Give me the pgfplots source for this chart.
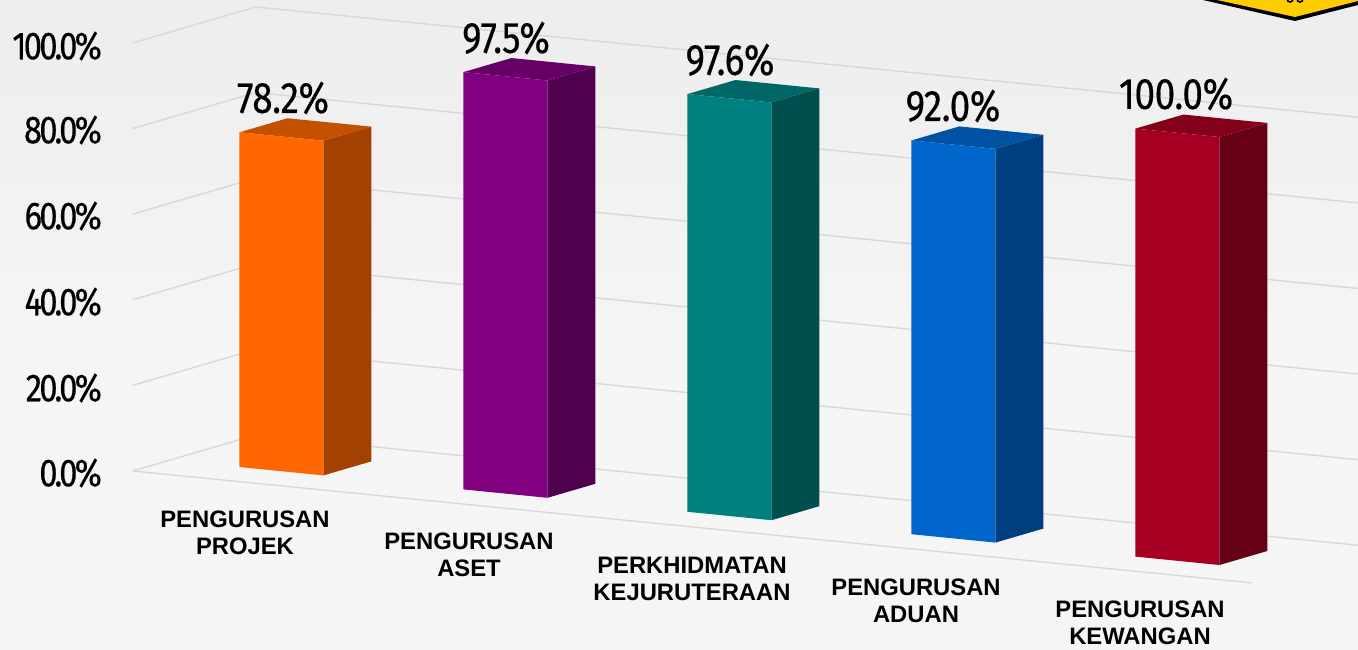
\documentclass[border=0pt]{standalone}
\usepackage{pgfplots}
\pgfplotsset{compat=1.18}
\usepackage{fontspec}
\setmainfont{Liberation Sans}
\newfontfamily\valfont[FakeStretch=0.84,FakeBold=0.35,LetterSpace=-1]{Fira Sans}
\newfontfamily\tickfont[FakeStretch=0.84,FakeBold=0.4,LetterSpace=-7]{Fira Sans}
\definecolor{gridcol}{HTML}{D8D8D8}
\definecolor{yel}{HTML}{FFCC00}
\definecolor{oF}{HTML}{FF6600}\definecolor{oT}{HTML}{C55000}\definecolor{oS}{HTML}{A34200}
\definecolor{pF}{HTML}{800080}\definecolor{pT}{HTML}{660066}\definecolor{pS}{HTML}{4F004F}
\definecolor{tF}{HTML}{008080}\definecolor{tT}{HTML}{006666}\definecolor{tS}{HTML}{004F4F}
\definecolor{bF}{HTML}{0066CC}\definecolor{bT}{HTML}{0052A3}\definecolor{bS}{HTML}{003F7F}
\definecolor{rF}{HTML}{A50021}\definecolor{rT}{HTML}{840019}\definecolor{rS}{HTML}{660014}
\begin{document}
\begin{tikzpicture}[x=1pt,y=1pt]
\path[use as bounding box] (0,0) rectangle (1358,649);
\clip (0,0) rectangle (1358,649);
\fill[top color=black!7,bottom color=black!4,middle color=black!4] (0,0) rectangle (1358,649);
\fill[black] (1203,649) -- (1295,628) -- (1358,644) -- (1358,649) -- cycle;
\fill[yel] (1217,649) -- (1295,632) -- (1358,648) -- (1358,649) -- cycle;
\draw[black,line width=1.6pt] (1290,650) circle (3) (1300,650) circle (3);
\begin{axis}[
  at={(132.6pt,178pt)},anchor=origin,
  x={(224pt,-22.4pt)},y={(123pt,36pt)},z={(0pt,4.28pt)},
  xmin=0,xmax=5,ymin=0,ymax=1,zmin=0,zmax=100,
  hide axis,clip=false]
% grid
\addplot3[gridcol,line width=1.4pt] coordinates {(0,0,0) (0,1,0) (5,1,0)};
\addplot3[gridcol,line width=1.4pt] coordinates {(0,0,20) (0,1,20) (5,1,20)};
\addplot3[gridcol,line width=1.4pt] coordinates {(0,0,40) (0,1,40) (5,1,40)};
\addplot3[gridcol,line width=1.4pt] coordinates {(0,0,60) (0,1,60) (5,1,60)};
\addplot3[gridcol,line width=1.4pt] coordinates {(0,0,80) (0,1,80) (5,1,80)};
\addplot3[gridcol,line width=1.4pt] coordinates {(0,0,100) (0,1,100) (5,1,100)};
\addplot3[gridcol,line width=1.4pt] coordinates {(0,0,0) (5,0,0)};
% bar 1
\addplot3[fill=oT,draw=none] coordinates {(0.31,0.304,78.2) (0.685,0.304,78.2) (0.685,0.694,78.2) (0.31,0.694,78.2)} -- cycle;
\addplot3[fill=oS,draw=none] coordinates {(0.685,0.304,0) (0.685,0.694,0) (0.685,0.694,78.2) (0.685,0.304,78.2)} -- cycle;
\addplot3[fill=oF,draw=none] coordinates {(0.31,0.304,0) (0.685,0.304,0) (0.685,0.304,78.2) (0.31,0.304,78.2)} -- cycle;
% bar 2
\addplot3[fill=pT,draw=none] coordinates {(1.31,0.304,97.5) (1.685,0.304,97.5) (1.685,0.694,97.5) (1.31,0.694,97.5)} -- cycle;
\addplot3[fill=pS,draw=none] coordinates {(1.685,0.304,0) (1.685,0.694,0) (1.685,0.694,97.5) (1.685,0.304,97.5)} -- cycle;
\addplot3[fill=pF,draw=none] coordinates {(1.31,0.304,0) (1.685,0.304,0) (1.685,0.304,97.5) (1.31,0.304,97.5)} -- cycle;
% bar 3
\addplot3[fill=tT,draw=none] coordinates {(2.31,0.304,97.6) (2.685,0.304,97.6) (2.685,0.694,97.6) (2.31,0.694,97.6)} -- cycle;
\addplot3[fill=tS,draw=none] coordinates {(2.685,0.304,0) (2.685,0.694,0) (2.685,0.694,97.6) (2.685,0.304,97.6)} -- cycle;
\addplot3[fill=tF,draw=none] coordinates {(2.31,0.304,0) (2.685,0.304,0) (2.685,0.304,97.6) (2.31,0.304,97.6)} -- cycle;
% bar 4
\addplot3[fill=bT,draw=none] coordinates {(3.31,0.304,92) (3.685,0.304,92) (3.685,0.694,92) (3.31,0.694,92)} -- cycle;
\addplot3[fill=bS,draw=none] coordinates {(3.685,0.304,0) (3.685,0.694,0) (3.685,0.694,92) (3.685,0.304,92)} -- cycle;
\addplot3[fill=bF,draw=none] coordinates {(3.31,0.304,0) (3.685,0.304,0) (3.685,0.304,92) (3.31,0.304,92)} -- cycle;
% bar 5
\addplot3[fill=rT,draw=none] coordinates {(4.31,0.304,100) (4.685,0.304,100) (4.685,0.694,100) (4.31,0.694,100)} -- cycle;
\addplot3[fill=rS,draw=none] coordinates {(4.685,0.304,0) (4.685,0.694,0) (4.685,0.694,100) (4.685,0.304,100)} -- cycle;
\addplot3[fill=rF,draw=none] coordinates {(4.31,0.304,0) (4.685,0.304,0) (4.685,0.304,100) (4.31,0.304,100)} -- cycle;
\end{axis}
% axis tick labels
\begin{scope}[every node/.style={anchor=east,inner sep=0pt,font=\tickfont\fontsize{39}{39}\selectfont}]
\node at (102,649-46) {100.0\%};
\node at (102,649-130) {80.0\%};
\node at (102,649-216) {60.0\%};
\node at (102,649-302) {40.0\%};
\node at (102,649-388) {20.0\%};
\node at (102,649-473) {0.0\%};
\end{scope}
% value labels
\begin{scope}[every node/.style={inner sep=0pt,font=\valfont\fontsize{44}{44}\selectfont}]
\node at (283,649-98) {78.2\%};
\node at (506,649-38) {97.5\%};
\node at (730,649-60) {97.6\%};
\node at (953,649-106) {92.0\%};
\node at (1176,649-94) {100.0\%};
\end{scope}
% category labels
\begin{scope}[every node/.style={inner sep=0pt,align=center,font=\bfseries\fontsize{23.8}{27}\selectfont}]
\node at (245,649-533) {PENGURUSAN\\PROJEK};
\node at (469,649-555) {PENGURUSAN\\ASET};
\node at (692,649-579) {PERKHIDMATAN\\KEJURUTERAAN};
\node at (916,649-601) {PENGURUSAN\\ADUAN};
\node at (1140,649-623) {PENGURUSAN\\KEWANGAN};
\end{scope}
\end{tikzpicture}
\end{document}
